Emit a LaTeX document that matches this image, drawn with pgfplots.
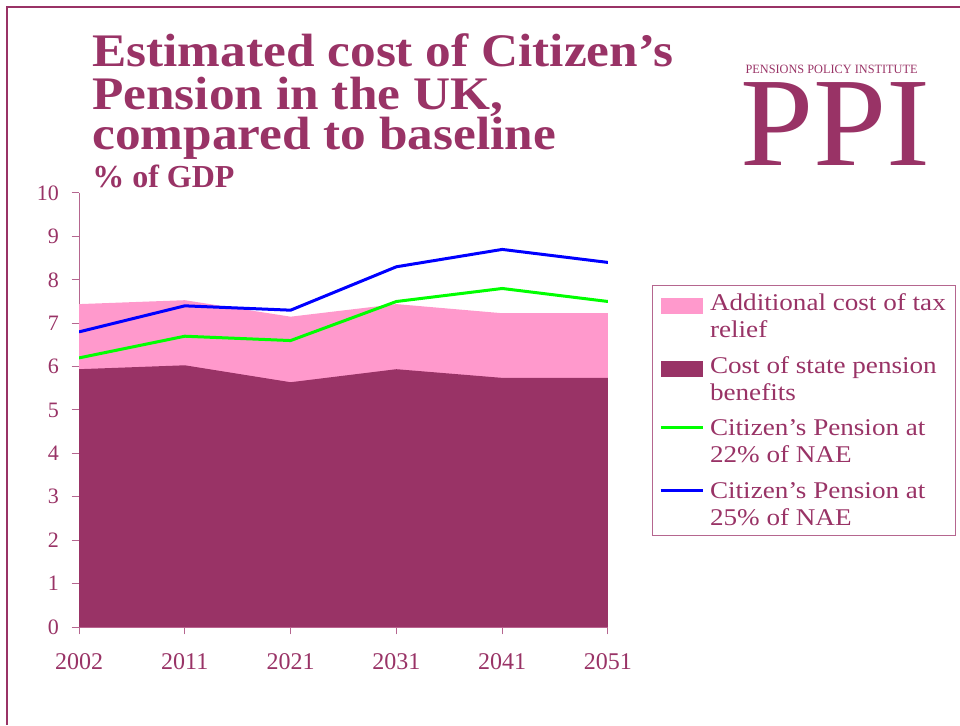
\documentclass[border=0pt]{standalone}
\usepackage{pgfplots}
\pgfplotsset{compat=1.18}
\usepackage{fontspec}
\setmainfont{Liberation Serif}
\definecolor{plum}{HTML}{993366}
\definecolor{pinkfill}{HTML}{FF99CC}
\definecolor{axisplum}{HTML}{B5668F}
\newcommand{\lgx}[1]{\scalebox{1.13}[1]{#1}}
\begin{document}
\begin{tikzpicture}[x=1pt,y=1pt]
\useasboundingbox (0,0) rectangle (720,543.75);
\draw[plum, line width=1.5pt] (5.25,0) -- (5.25,538.5) -- (720,538.5);
% title
\node[anchor=base west, inner sep=0, text=plum, xscale=1.10] at (69,493.5) {\fontsize{35}{35}\selectfont\bfseries Estimated cost of Citizen’s};
\node[anchor=base west, inner sep=0, text=plum, xscale=1.10] at (69,461.25) {\fontsize{35}{35}\selectfont\bfseries Pension in the UK,};
\node[anchor=base west, inner sep=0, text=plum, xscale=1.10] at (69,431.25) {\fontsize{35}{35}\selectfont\bfseries compared to baseline};
\node[anchor=base west, inner sep=0, text=plum] at (69,402.75) {\fontsize{24}{24}\selectfont\bfseries \% of GDP};
% logo
\node[anchor=base west, inner sep=0, text=plum, xscale=0.97] at (559,488.25) {\fontsize{9.5}{9.5}\selectfont PENSIONS POLICY INSTITUTE};
\node[anchor=base west, inner sep=0, text=plum, xscale=1.04] at (555,419.25) {\fontsize{95}{95}\selectfont PPI};
\begin{axis}[
  at={(59.25pt,73.5pt)}, anchor=south west,
  scale only axis, width=396.75pt, height=325.5pt,
  xmin=0, xmax=5, ymin=0, ymax=10,
  xtick={0,1,2,3,4,5},
  xticklabels={2002,2011,2021,2031,2041,2051},
  ytick={0,1,2,3,4,5,6,7,8,9,10},
  axis x line*=bottom, axis y line*=left,
  axis line style={axisplum, line width=0.75pt, -},
  tick style={axisplum, line width=0.75pt},
  tick align=outside,
  major tick length=5.5pt,
  /pgf/number format/assume math mode=true,
  ticklabel style={font=\fontsize{16.5}{16.5}\selectfont, text=plum},
  xticklabel style={yshift=-11pt, font=\fontsize{18}{18}\selectfont},
  yticklabel style={xshift=-6pt},
  legend style={at={(1.083,0.788)}, anchor=north west, draw=axisplum, line width=0.75pt,
    font=\fontsize{18}{20.25}\selectfont, text=plum, cells={align=left, anchor=west},
    row sep=9pt, inner xsep=5pt, inner ysep=4pt},
  legend cell align=left,
]
\addplot[fill=pinkfill, draw=none,
  legend image code/.code={\fill[pinkfill] (0pt,2pt) rectangle (32pt,14pt); \path (34pt,2pt);}]
  coordinates {(0,7.44) (1,7.53) (2,7.15) (3,7.44) (4,7.23) (5,7.23)} \closedcycle;
\addlegendentry{\lgx{Additional cost of tax}\\\lgx{relief}}
\addplot[fill=plum, draw=none,
  legend image code/.code={\fill[plum] (0pt,2pt) rectangle (32pt,14pt); \path (34pt,2pt);}]
  coordinates {(0,5.94) (1,6.03) (2,5.64) (3,5.94) (4,5.74) (5,5.74)} \closedcycle;
\addlegendentry{\lgx{Cost of state pension}\\\lgx{benefits}}
\addplot[color=green, line width=2.25pt,
  legend image code/.code={\draw[green, line width=2.25pt] (0pt,11pt) -- (32pt,11pt); \path (34pt,11pt);}]
  coordinates {(0,6.2) (1,6.7) (2,6.6) (3,7.5) (4,7.8) (5,7.5)};
\addlegendentry{\lgx{Citizen's Pension at}\\\lgx{22\% of NAE}}
\addplot[color=blue, line width=2.25pt,
  legend image code/.code={\draw[blue, line width=2.25pt] (0pt,11pt) -- (32pt,11pt); \path (34pt,11pt);}]
  coordinates {(0,6.8) (1,7.4) (2,7.3) (3,8.3) (4,8.7) (5,8.4)};
\addlegendentry{\lgx{Citizen's Pension at}\\\lgx{25\% of NAE}}
\end{axis}
\end{tikzpicture}
\end{document}
